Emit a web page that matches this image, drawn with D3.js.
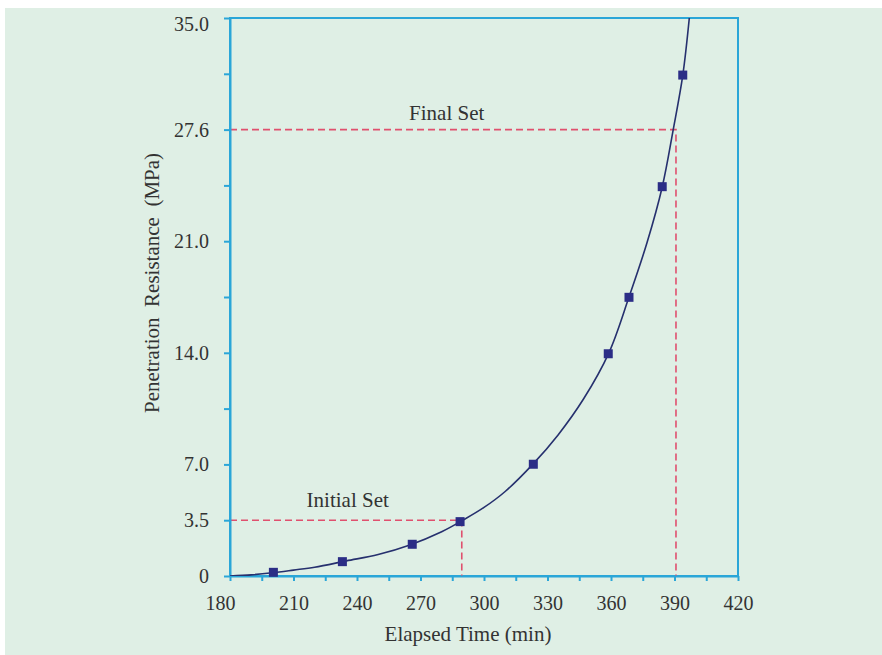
<!DOCTYPE html>
<html lang="en">
<head>
<meta charset="UTF-8">
<script src="https://d3js.org/d3.v7.min.js"></script>
<title>Penetration Resistance vs Elapsed Time</title>
<style>
    body { margin: 0; background: #ffffff; }
    svg { display: block; }
    .axis path, .axis line { stroke: #2aa6d8; stroke-width: 2; }
    .axis text { font-family: "Liberation Serif", "Times New Roman", serif; font-size: 20px; fill: #333; }
    .title { font-family: "Liberation Serif", "Times New Roman", serif; font-size: 21px; fill: #333; }
</style>
</head>
<body>
<svg width="882" height="655"></svg>
<script>
// measured points: elapsed time (min) and penetration resistance (MPa)
var times = [200.5, 233.1, 266.1, 288.7, 323.3, 358.7, 368.5, 384.2, 393.9];
var resistance = [0.23, 0.90, 1.99, 3.41, 7.01, 13.94, 17.48, 24.42, 31.42];

// fitted curve
var curveTimes = [180, 190, 200, 210, 220, 235, 250, 265, 280, 290, 300, 310, 323, 335, 347, 359, 368.5, 377, 384.2, 389.4, 393.9, 397];
var curveValues = [0, 0.07, 0.2, 0.37, 0.55, 0.95, 1.35, 1.95, 2.78, 3.5, 4.3, 5.3, 7.0, 8.85, 11.1, 14.0, 17.5, 20.9, 24.4, 28.0, 31.4, 35];

// set points (time, resistance)
var initialSet = [289.5, 3.5];
var finalSet = [390.7, 28];

// annotation anchors (time, resistance)
var initialLabel = [216.2, 4.35];
var finalLabel = [264.6, 28.6];

// ticks
var xTicks = [180, 195, 210, 225, 240, 255, 270, 285, 300, 315, 330, 345, 360, 375, 390, 405, 420];
var xLabels = [180, 210, 240, 270, 300, 330, 360, 390, 420];
var yTicks = [0, 3.5, 7, 10.5, 14, 17.5, 21, 24.5, 28, 31.5, 35];
var yLabelValues = [0, 3.5, 7, 14, 21, 28, 35];
var yLabels = ["0", "3.5", "7.0", "14.0", "21.0", "27.6", "35.0"];

var margin = {left: 230, top: 18};
var width = 508;
var height = 558;

var svg = d3.select("svg");

svg.append("rect")
    .attr("x", 5).attr("y", 8)
    .attr("width", 877).attr("height", 647)
    .attr("fill", "#dfefe5");

var g = svg.append("g")
    .attr("transform", "translate(" + margin.left + "," + margin.top + ")");

var x = d3.scaleLinear().domain([180, 420]).range([0, width]);
var y = d3.scaleLinear().domain([0, 35]).range([height, 0]);

// frame (top and right)
g.append("rect")
    .attr("x", 0).attr("y", 0)
    .attr("width", width).attr("height", height)
    .attr("fill", "none")
    .attr("stroke", "#2aa6d8")
    .attr("stroke-width", 2);

g.append("defs").append("clipPath").attr("id", "plot")
    .append("rect").attr("width", width).attr("height", height);

// dashed set lines
var dash = "#e0506e";
[initialSet, finalSet].forEach(function (s) {
    g.append("path")
        .attr("d", "M" + x(180) + "," + y(s[1]) + "H" + x(s[0]) + "V" + y(0))
        .attr("fill", "none")
        .attr("stroke", dash)
        .attr("stroke-width", 1.6)
        .attr("stroke-dasharray", "7,4");
});

// axes
var xAxis = g.append("g")
    .attr("class", "axis")
    .attr("transform", "translate(0," + height + ")")
    .call(d3.axisBottom(x)
        .tickValues(xTicks)
        .tickSize(5)
        .tickSizeOuter(0)
        .tickPadding(15)
        .tickFormat(function (d) { return xLabels.indexOf(d) >= 0 ? d : ""; }));
xAxis.selectAll("text").filter(function (d) { return d === 180; }).attr("dx", -10);

var yAxis = g.append("g")
    .attr("class", "axis")
    .call(d3.axisLeft(y)
        .tickValues(yTicks)
        .tickSize(6)
        .tickSizeOuter(0)
        .tickPadding(15)
        .tickFormat(function (d) {
            var i = yLabelValues.indexOf(d);
            return i >= 0 ? yLabels[i] : "";
        }));
yAxis.selectAll("text").filter(function (d) { return d === 35; }).attr("dy", "0.6em");

// fitted curve
var curveData = curveTimes.map(function (t, i) { return [t, curveValues[i]]; });
g.append("path")
    .datum(curveData)
    .attr("clip-path", "url(#plot)")
    .attr("fill", "none")
    .attr("stroke", "#26306e")
    .attr("stroke-width", 1.6)
    .attr("d", d3.line()
        .x(function (d) { return x(d[0]); })
        .y(function (d) { return y(d[1]); })
        .curve(d3.curveCatmullRom));

// markers
var size = 9;
g.selectAll("rect.pt")
    .data(times)
    .enter()
    .append("rect")
    .attr("class", "pt")
    .attr("x", function (d) { return x(d) - size / 2; })
    .attr("y", function (d, i) { return y(resistance[i]) - size / 2; })
    .attr("width", size)
    .attr("height", size)
    .attr("fill", "#2b2d86");

// annotations
g.append("text").attr("class", "title")
    .attr("x", x(initialLabel[0])).attr("y", y(initialLabel[1]))
    .text("Initial Set");
g.append("text").attr("class", "title")
    .attr("x", x(finalLabel[0])).attr("y", y(finalLabel[1]))
    .text("Final Set");

// axis titles
svg.append("text").attr("class", "title")
    .attr("x", 468).attr("y", 641)
    .attr("text-anchor", "middle")
    .text("Elapsed Time (min)");

svg.append("text").attr("class", "title")
    .attr("transform", "translate(159,283) rotate(-90)")
    .attr("text-anchor", "middle")
    .attr("xml:space", "preserve")
    .style("white-space", "pre")
    .text("Penetration  Resistance  (MPa)");
</script>
</body>
</html>
